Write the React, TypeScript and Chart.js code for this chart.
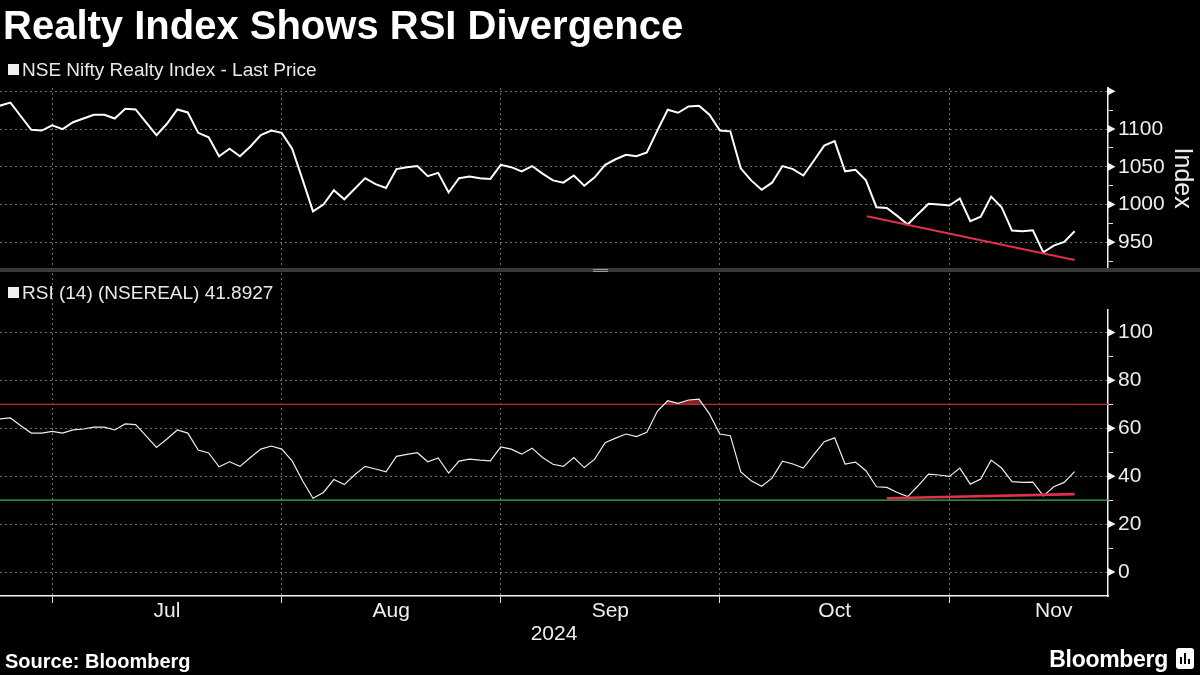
import React, { useEffect, useRef } from 'react';
import { Chart, registerables } from 'chart.js';

Chart.register(...registerables);

// ---- Data (trading-day index on x) ----
const priceValues = [
  1131, 1135, 1117, 1099, 1098, 1105, 1100, 1109, 1114, 1119,
  1119, 1114, 1127, 1126, 1109, 1092, 1107, 1126, 1122, 1095,
  1089, 1064, 1074, 1064, 1077, 1092, 1098, 1095, 1074, 1033,
  991, 1000, 1019, 1007, 1021, 1035, 1027, 1022, 1047, 1049.5,
  1051, 1037.6, 1042, 1016, 1035, 1037, 1035, 1034, 1052.6, 1049.5,
  1044, 1051, 1041, 1032, 1029, 1038.5, 1025, 1036, 1052.6, 1060,
  1066, 1064, 1069, 1098, 1125.6, 1121.6, 1130, 1131, 1119, 1098,
  1097, 1048, 1032, 1019.5, 1029, 1051, 1047, 1038.5, 1058, 1078,
  1084, 1044, 1046, 1032, 996.5, 995.6, 985, 973.5, 987.6, 1001,
  1000, 998.7, 1008, 978, 984, 1010.6, 996.5, 965.5, 964.6, 966,
  936.7, 945.6, 950.5, 964.6,
];

const rsiValues = [
  63.9, 64.3, 61.1, 58, 58, 58.7, 58, 59.3, 59.7, 60.5,
  60.5, 59.3, 61.8, 61.5, 56.8, 52, 55.5, 59.3, 58, 50.9,
  49.7, 43.9, 46, 44.1, 47.8, 51.3, 52.6, 51.3, 46.4, 38.1,
  30.8, 33.2, 38.6, 36.5, 40.6, 44.1, 43, 41.8, 48.3, 49.1,
  49.8, 46, 47.6, 41.3, 46.3, 47.1, 46.7, 46.4, 52.2, 51.3,
  49.2, 51.7, 47.8, 45, 44.1, 47.8, 43.6, 47.1, 54, 55.9,
  57.6, 56.5, 58.3, 67.1, 71.5, 70.4, 71.8, 72.2, 66, 57.6,
  56.9, 41.8, 38.1, 35.8, 39.2, 46.3, 45.1, 43.4, 49, 54.4,
  56, 45.1, 45.9, 42.3, 35.6, 35.3, 33.2, 31.5, 36, 40.9,
  40.5, 39.9, 43.4, 36.7, 38.8, 46.7, 43.4, 37.7, 37.4, 37.5,
  31.8, 35.6, 37.4, 41.89,
];

const monthLabels = ['Jul', 'Aug', 'Sep', 'Oct', 'Nov'];
const monthStartIdx = [5, 27, 48, 69, 91];
const monthEndIdx = [27, 48, 69, 91, 111];
const yearLabel = '2024';
const xMin = 0;
const xMax = 106.2;

const priceMajorTicks = [950, 1000, 1050, 1100, 1150];
const priceMinorTicks = [925, 975, 1025, 1075, 1125];
const priceLabelledTicks = [950, 1000, 1050, 1100];
const priceMin = 915.5;
const priceMax = 1154.4;

const rsiMajorTicks = [0, 20, 40, 60, 80, 100];
const rsiMinorTicks = [10, 30, 50, 70, 90];
const rsiMin = -10;
const rsiMax = 109.6;

const overboughtLevel = 70;
const oversoldLevel = 30;

const priceTrendX = [83.1, 103];
const priceTrendY = [984.5, 926.7];
const rsiTrendX = [85, 103];
const rsiTrendY = [30.8, 32.5];

const priceLegend = 'NSE Nifty Realty Index - Last Price';
const rsiLegend = 'RSI (14) (NSEREAL) 41.8927';

// ---- Styles ----
const FONT = "'Liberation Sans', Arial, sans-serif";
const gridColor = 'rgba(185,185,185,0.6)';
const axisText = '#eeeeee';
const trendColor = '#e0304e';

const arrowTicks = {
  id: 'arrowTicks',
  afterDraw(chart: any) {
    const ctx = chart.ctx;
    const sets: [string, number[]][] = [
      ['yP', priceMajorTicks],
      ['yR', rsiMajorTicks],
    ];
    ctx.save();
    ctx.fillStyle = '#f0f0f0';
    for (const [id, vals] of sets) {
      const s = chart.scales[id];
      for (const v of vals) {
        const y = s.getPixelForValue(v);
        ctx.beginPath();
        ctx.moveTo(s.left, y - 4);
        ctx.lineTo(s.left + 7.5, y);
        ctx.lineTo(s.left, y + 4);
        ctx.closePath();
        ctx.fill();
      }
    }
    ctx.restore();
  },
};

export default function App() {
  const ref = useRef<HTMLCanvasElement>(null);

  useEffect(() => {
    const canvas = ref.current!;
    const pricePoints = priceValues.map((v, i) => ({ x: i, y: v }));
    const rsiPoints = rsiValues.map((v, i) => ({ x: i, y: v }));
    const priceTrend = priceTrendX.map((x, i) => ({ x, y: priceTrendY[i] }));
    const rsiTrend = rsiTrendX.map((x, i) => ({ x, y: rsiTrendY[i] }));
    const obLine = [{ x: xMin, y: overboughtLevel }, { x: xMax, y: overboughtLevel }];
    const osLine = [{ x: xMin, y: oversoldLevel }, { x: xMax, y: oversoldLevel }];
    const monthCenters = monthStartIdx.map((s, i) => (s + monthEndIdx[i]) / 2);

    const pick = (vals: number[], color: string) => (c: any) =>
      c.tick && vals.includes(c.tick.value) ? color : 'rgba(0,0,0,0)';

    const chart = new Chart(canvas, {
      type: 'line',
      data: {
        datasets: [
          {
            data: priceTrend, xAxisID: 'x', yAxisID: 'yP', borderColor: trendColor,
            borderWidth: 2, pointRadius: 0, order: 0, fill: false,
          },
          {
            data: rsiTrend, xAxisID: 'x', yAxisID: 'yR', borderColor: trendColor,
            borderWidth: 2.6, pointRadius: 0, order: 0, fill: false,
          },
          {
            data: pricePoints, xAxisID: 'x', yAxisID: 'yP', borderColor: '#ffffff',
            borderWidth: 2, pointRadius: 0, order: 1, fill: false, tension: 0,
          },
          {
            data: rsiPoints, xAxisID: 'x', yAxisID: 'yR', borderColor: '#eeeeee',
            borderWidth: 1.2, pointRadius: 0, order: 1, tension: 0,
            fill: { target: { value: overboughtLevel }, above: 'rgba(150,38,38,0.9)', below: 'rgba(0,0,0,0)' },
          },
          {
            data: obLine, xAxisID: 'x', yAxisID: 'yR', borderColor: '#c8282c',
            borderWidth: 1.2, pointRadius: 0, order: 2, fill: false,
          },
          {
            data: osLine, xAxisID: 'x', yAxisID: 'yR', borderColor: '#3fb548',
            borderWidth: 1.2, pointRadius: 0, order: 2, fill: false,
          },
        ],
      },
      options: {
        animation: false,
        responsive: false,
        events: [],
        layout: { padding: { top: 88, left: 0, right: 0, bottom: 24 } },
        plugins: { legend: { display: false }, tooltip: { enabled: false } },
        scales: {
          x: {
            type: 'linear', position: 'bottom', min: xMin, max: xMax, weight: 1,
            afterBuildTicks: (s: any) => { s.ticks = monthStartIdx.map((v) => ({ value: v })); },
            afterFit: (s: any) => { s.height = 3; },
            ticks: { display: false },
            grid: {
              color: gridColor, lineWidth: 1, drawTicks: true, tickLength: 7,
              tickColor: '#e0e0e0', tickBorderDash: [], tickWidth: 1,
            },
            border: { display: true, color: '#f2f2f2', width: 1.5, dash: [2, 3] },
          },
          x2: {
            type: 'linear', position: 'bottom', min: xMin, max: xMax, weight: 2,
            afterBuildTicks: (s: any) => { s.ticks = monthCenters.map((v) => ({ value: v })); },
            afterFit: (s: any) => { s.height = 52; },
            ticks: {
              autoSkip: false, maxRotation: 0, padding: 0, color: axisText,
              font: { family: FONT, size: 21 },
              callback: (_v: any, i: number) => monthLabels[i],
            },
            grid: { display: false, drawTicks: false },
            border: { display: false },
            title: {
              display: true, text: yearLabel, color: axisText,
              font: { family: FONT, size: 21 }, padding: { top: 0, bottom: 4 },
            },
          },
          yP: {
            type: 'linear', position: 'right', stack: 'panels', stackWeight: 180,
            min: priceMin, max: priceMax,
            afterBuildTicks: (s: any) => {
              s.ticks = [...priceMajorTicks, ...priceMinorTicks].sort((a, b) => a - b).map((v) => ({ value: v }));
            },
            afterFit: (s: any) => { s.width = 92; },
            ticks: {
              autoSkip: false, padding: 5, color: axisText, font: { family: FONT, size: 21 },
              callback: (v: any) => (priceLabelledTicks.includes(v) ? String(v) : ''),
            },
            grid: {
              color: pick(priceMajorTicks, gridColor), lineWidth: 1, tickLength: 5,
              tickColor: pick(priceMinorTicks, '#e0e0e0'), tickBorderDash: [],
            },
            border: { display: true, color: '#f2f2f2', width: 1.5, dash: [2, 3] },
            title: {
              display: true, text: 'Index', color: axisText,
              font: { family: FONT, size: 25 }, padding: { top: 3, bottom: 0 },
            },
          },
          yG: {
            type: 'linear', position: 'right', stack: 'panels', stackWeight: 41,
            min: 0, max: 1,
            afterFit: (s: any) => { s.width = 92; },
            ticks: { display: false },
            grid: { display: false, drawTicks: false },
            border: { display: false },
          },
          yR: {
            type: 'linear', position: 'right', stack: 'panels', stackWeight: 286,
            min: rsiMin, max: rsiMax,
            afterBuildTicks: (s: any) => {
              s.ticks = [...rsiMajorTicks, ...rsiMinorTicks].sort((a, b) => a - b).map((v) => ({ value: v }));
            },
            afterFit: (s: any) => { s.width = 92; },
            ticks: {
              autoSkip: false, padding: 5, color: axisText, font: { family: FONT, size: 21 },
              callback: (v: any) => (rsiMajorTicks.includes(v) ? String(v) : ''),
            },
            grid: {
              color: pick(rsiMajorTicks, gridColor), lineWidth: 1, tickLength: 5,
              tickColor: pick(rsiMinorTicks, '#e0e0e0'), tickBorderDash: [],
            },
            border: { display: true, color: '#f2f2f2', width: 1.5, dash: [2, 3] },
          },
        },
      } as any,
      plugins: [arrowTicks],
    });
    return () => chart.destroy();
  }, []);

  const legendText: React.CSSProperties = {
    position: 'absolute', left: 22, fontFamily: FONT, fontSize: 19, lineHeight: '19px',
    color: '#e8e8e8', whiteSpace: 'nowrap',
  };
  const square: React.CSSProperties = {
    position: 'absolute', left: 8, width: 11, height: 11, background: '#f0f0f0',
  };

  return (
    <div style={{ position: 'absolute', left: 0, top: 0, width: 1200, height: 675, background: '#000', overflow: 'hidden' }}>
      <canvas ref={ref} width={1200} height={675} style={{ position: 'absolute', left: 0, top: 0, width: 1200, height: 675 }} />
      <div style={{ position: 'absolute', left: 3, top: 5, fontFamily: FONT, fontWeight: 700, fontSize: 40, lineHeight: '40px', color: '#fff', whiteSpace: 'nowrap' }}>
        Realty Index Shows RSI Divergence
      </div>
      <div style={{ ...square, top: 64 }} />
      <div style={{ ...legendText, top: 60 }}>{priceLegend}</div>
      <div style={{ position: 'absolute', left: 0, top: 268, width: 1200, height: 4, background: '#3a3a3a' }} />
      <div style={{ position: 'absolute', left: 593, top: 268.5, width: 15, height: 1, borderTop: '1px solid #9a9a9a', borderBottom: '1px solid #9a9a9a' }} />
      <div style={{ ...square, top: 287 }} />
      <div style={{ ...legendText, top: 283 }}>{rsiLegend}</div>
      <div style={{ position: 'absolute', left: 5, top: 651, fontFamily: FONT, fontWeight: 700, fontSize: 20, lineHeight: '20px', color: '#fff', whiteSpace: 'nowrap' }}>
        Source: Bloomberg
      </div>
      <div style={{ position: 'absolute', right: 32, top: 648, fontFamily: FONT, fontWeight: 700, fontSize: 23, lineHeight: '23px', color: '#fff', whiteSpace: 'nowrap', letterSpacing: -0.3 }}>
        Bloomberg
      </div>
      <div style={{ position: 'absolute', left: 1176, top: 648, width: 18, height: 21, background: '#fff', borderRadius: 3 }}>
        <div style={{ position: 'absolute', left: 4, top: 9, width: 2, height: 7, background: '#000' }} />
        <div style={{ position: 'absolute', left: 8, top: 5, width: 2, height: 11, background: '#000' }} />
        <div style={{ position: 'absolute', left: 12, top: 11, width: 2, height: 5, background: '#000' }} />
      </div>
    </div>
  );
}
